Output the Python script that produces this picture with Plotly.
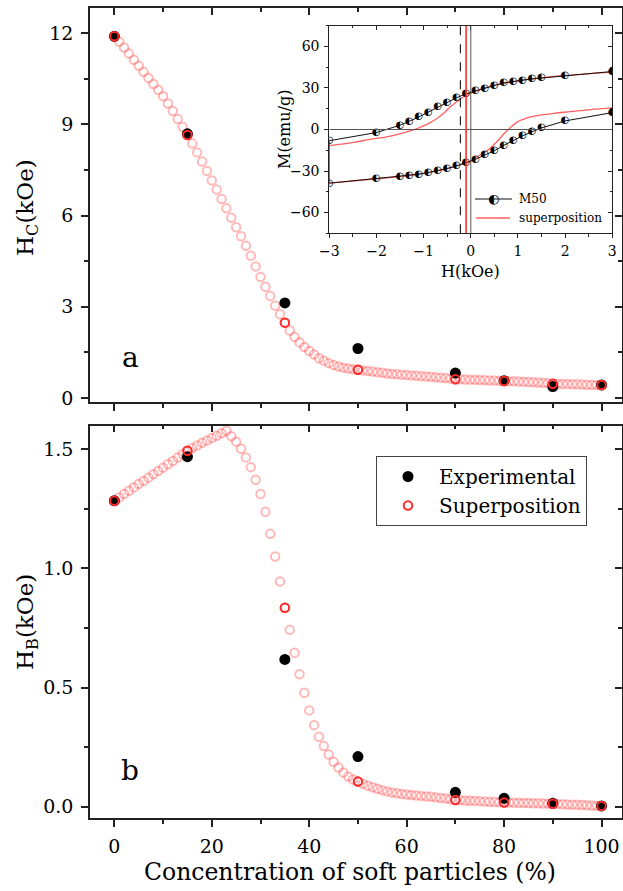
import plotly.graph_objects as go

# ---------------- data ----------------
conc_exp = [0, 15, 35, 50, 70, 80, 90, 100]
hc_exp = [11.90, 8.69, 3.13, 1.63, 0.82, 0.57, 0.38, 0.43]
hb_exp = [1.284, 1.469, 0.618, 0.210, 0.060, 0.035, 0.014, 0.003]
hc_sup_at_exp = [11.90, 8.65, 2.48, 0.93, 0.62, 0.56, 0.47, 0.43]
hb_sup_at_exp = [1.284, 1.494, 0.835, 0.105, 0.028, 0.017, 0.012, 0.003]

conc_sup = list(range(0, 101))
hc_sup = [
    11.90, 11.72, 11.53, 11.33, 11.13, 10.93, 10.73, 10.53, 10.33, 10.13,
    9.93, 9.69, 9.44, 9.18, 8.92, 8.65, 8.37, 8.08, 7.78, 7.47,
    7.16, 6.86, 6.55, 6.24, 5.93, 5.62, 5.32, 5.01, 4.68, 4.33,
    3.98, 3.66, 3.36, 3.04, 2.76, 2.48, 2.22, 2.01, 1.83, 1.68,
    1.55, 1.43, 1.31, 1.23, 1.15, 1.09, 1.04, 1.00, 0.97, 0.95,
    0.93, 0.91, 0.89, 0.87, 0.85, 0.83, 0.81, 0.79, 0.78, 0.77,
    0.755, 0.745, 0.73, 0.72, 0.71, 0.70, 0.685, 0.67, 0.66, 0.64,
    0.62, 0.615, 0.61, 0.605, 0.60, 0.595, 0.59, 0.58, 0.575, 0.57,
    0.56, 0.555, 0.55, 0.545, 0.54, 0.53, 0.52, 0.51, 0.50, 0.49,
    0.47, 0.468, 0.465, 0.46, 0.455, 0.45, 0.445, 0.44, 0.435, 0.432,
    0.43,
]
hb_sup = [
    1.284, 1.298, 1.312, 1.326, 1.340, 1.354, 1.367, 1.381, 1.395, 1.409,
    1.423, 1.437, 1.451, 1.465, 1.479, 1.494, 1.505, 1.516, 1.527, 1.537,
    1.547, 1.557, 1.567, 1.578, 1.555, 1.532, 1.502, 1.466, 1.425, 1.372,
    1.312, 1.238, 1.145, 1.050, 0.945, 0.835, 0.742, 0.646, 0.556, 0.478,
    0.404, 0.342, 0.293, 0.254, 0.219, 0.188, 0.164, 0.143, 0.126, 0.114,
    0.105, 0.096, 0.088, 0.081, 0.075, 0.069, 0.064, 0.059, 0.056, 0.053,
    0.051, 0.049, 0.047, 0.045, 0.043, 0.041, 0.039, 0.036, 0.034, 0.031,
    0.028, 0.027, 0.026, 0.025, 0.024, 0.023, 0.021, 0.020, 0.019, 0.018,
    0.017, 0.017, 0.016, 0.016, 0.015, 0.015, 0.014, 0.014, 0.013, 0.013,
    0.012, 0.011, 0.010, 0.009, 0.008, 0.008, 0.007, 0.006, 0.005, 0.004,
    0.003,
]

# inset: M50 hysteresis loop
h_m50_up = [3, 2, 1.5, 1.3, 1.1, 0.9, 0.7, 0.5, 0.3, 0.1, -0.1, -0.3, -0.5,
            -0.7, -0.9, -1.1, -1.3, -1.5, -2, -3]
m_m50_up = [41.9, 39.0, 37.3, 36.6, 35.6, 34.7, 33.7, 31.8, 29.9, 28.2, 25.8,
            23.0, 19.4, 16.3, 12.4, 9.1, 6.0, 3.1, -2.2, -8.1]
h_m50_dn = [-3, -2, -1.5, -1.3, -1.1, -0.9, -0.7, -0.5, -0.3, -0.1, 0.1, 0.3,
            0.5, 0.7, 0.9, 1.1, 1.3, 1.5, 2, 3]
m_m50_dn = [-38.8, -35.6, -34.0, -33.3, -32.3, -31.1, -29.9, -28.2, -26.3,
            -23.9, -21.5, -18.4, -15.3, -11.5, -7.7, -4.5, -1.7, 1.2, 6.2, 12.2]
# inset: superposition loop
h_sup_up = [3, 2, 1.5, 1, 0.5, 0.2, 0, -0.1, -0.2, -0.3, -0.44, -0.58, -0.72,
            -0.86, -1.0, -1.14, -1.43, -1.78, -2.14, -2.49, -3]
m_sup_up = [41.5, 39.0, 37.3, 35.2, 31.8, 29.0, 26.5, 24.8, 22.5, 20.0, 16.3,
            11.5, 7.9, 5.0, 2.6, 0.7, -2.4, -5.3, -7.2, -9.3, -11.7]
h_sup_dn = [-3, -2, -1.5, -1, -0.5, -0.2, 0, 0.13, 0.27, 0.41, 0.55, 0.7, 0.84,
            0.98, 1.19, 1.4, 1.76, 2.11, 2.54, 3]
m_sup_dn = [-38.8, -35.6, -34.0, -31.7, -28.2, -25.2, -22.8, -19.6, -17.2,
            -13.6, -8.9, -3.3, 1.4, 5.3, 8.4, 10.0, 11.7, 12.9, 14.4, 15.6]
hc_m50 = -0.22   # coercive field of M50 (dashed line)
hc_superpos = -0.10  # coercive field of superposition (red line)

# ---------------- style ----------------
W, H = 623, 891
FONT = "DejaVu Serif"
AX = "#222222"
LIGHT = "rgba(255,70,70,0.38)"
RED = "#ff2b2b"


def px(x):
    return x / W


def py(y):
    return 1 - y / H


fig = go.Figure()

# top panel (a)
fig.add_trace(go.Scatter(x=conc_sup, y=hc_sup, mode="markers", xaxis="x", yaxis="y",
                         marker=dict(symbol="circle-open", size=8.5, color=LIGHT, line=dict(width=2, color=LIGHT)),
                         showlegend=False, hoverinfo="skip"))
fig.add_trace(go.Scatter(x=conc_exp, y=hc_exp, mode="markers", xaxis="x", yaxis="y",
                         marker=dict(symbol="circle", size=11, color="black"),
                         showlegend=False))
fig.add_trace(go.Scatter(x=conc_exp, y=hc_sup_at_exp, mode="markers", xaxis="x", yaxis="y",
                         marker=dict(symbol="circle-open", size=8.5, color=RED, line=dict(width=2, color=RED)),
                         showlegend=False))

# bottom panel (b)
fig.add_trace(go.Scatter(x=conc_sup, y=hb_sup, mode="markers", xaxis="x2", yaxis="y2",
                         marker=dict(symbol="circle-open", size=8.5, color=LIGHT, line=dict(width=2, color=LIGHT)),
                         showlegend=False, hoverinfo="skip"))
fig.add_trace(go.Scatter(x=conc_exp, y=hb_exp, mode="markers", xaxis="x2", yaxis="y2",
                         name="Experimental",
                         marker=dict(symbol="circle", size=11, color="black")))
fig.add_trace(go.Scatter(x=conc_exp, y=hb_sup_at_exp, mode="markers", xaxis="x2", yaxis="y2",
                         name="Superposition",
                         marker=dict(symbol="circle-open", size=8.5, color=RED, line=dict(width=2, color=RED))))

# inset
fig.add_trace(go.Scatter(x=h_sup_up, y=m_sup_up, mode="lines", xaxis="x3", yaxis="y3",
                         line=dict(color="#ff6060", width=1.3, shape="spline"), showlegend=False))
fig.add_trace(go.Scatter(x=h_sup_dn, y=m_sup_dn, mode="lines", xaxis="x3", yaxis="y3",
                         line=dict(color="#ff6060", width=1.3, shape="spline"), showlegend=False))
fig.add_trace(go.Scatter(x=h_m50_up + h_m50_dn, y=m_m50_up + m_m50_dn, mode="lines", xaxis="x3", yaxis="y3",
                         line=dict(color="#111111", width=1), showlegend=False))
fig.add_trace(go.Scatter(x=h_m50_up + h_m50_dn, y=m_m50_up + m_m50_dn, mode="text", xaxis="x3", yaxis="y3",
                         text=["◐"] * (len(h_m50_up) + len(h_m50_dn)), textposition="middle center",
                         textfont=dict(family="DejaVu Sans", size=10, color="black"),
                         showlegend=False, hoverinfo="skip"))

# dummy traces for mirrored (inward-tick) axes
for xa, ya in [("x4", "y"), ("x", "y4"), ("x5", "y2"), ("x2", "y5"), ("x6", "y3"), ("x3", "y6")]:
    fig.add_trace(go.Scatter(x=[None], y=[None], xaxis=xa, yaxis=ya, showlegend=False, hoverinfo="skip"))

top_dom = [py(402), py(8)]
bot_dom = [py(818.3), py(425.7)]
x_dom = [px(90), px(622)]
ins_x = [px(329.3), px(612.3)]
ins_y = [py(233.3), py(25.7)]

xr = [-5, 104.2]
yr_top = [-0.13, 12.83]
yr_bot = [-0.049, 1.599]
xr_in = [-3, 3]
yr_in = [-75, 75]

tickfont = dict(family=FONT, size=19, color="black")


def axis(domain, anchor, rng, dtick, mdtick, ticks="outside", labels=True, side=None,
         overlaying=None, ticklen=7, mlen=4, lw=1.5, font=tickfont, fmt=None, standoff=3):
    d = dict(range=rng, anchor=anchor, showline=True, linecolor=AX, linewidth=lw,
             ticks=ticks, ticklen=ticklen, tickwidth=lw, tickcolor=AX,
             tick0=0, dtick=dtick, showgrid=False, zeroline=False,
             showticklabels=labels, tickfont=font, ticklabelstandoff=standoff,
             automargin=False,
             minor=dict(ticks=ticks, ticklen=mlen, tickwidth=lw, tickcolor=AX, dtick=mdtick, tick0=0,
                        showgrid=False),
             fixedrange=True)
    if domain is not None:
        d["domain"] = domain
    if side:
        d["side"] = side
    if overlaying:
        d["overlaying"] = overlaying
    if fmt:
        d["tickformat"] = fmt
    return d


inset_font = dict(family=FONT, size=14, color="black")

fig.update_layout(
    width=W, height=H, margin=dict(l=0, r=0, t=0, b=0, autoexpand=False),
    paper_bgcolor="white", plot_bgcolor="white",
    font=dict(family=FONT, color="black"),
    xaxis=axis(x_dom, "y", xr, 20, 10, labels=False),
    yaxis=axis(top_dom, "x", yr_top, 3, 1.5, standoff=4),
    xaxis2=axis(x_dom, "y2", xr, 20, 10, standoff=3),
    yaxis2=axis(bot_dom, "x2", yr_bot, 0.5, 0.25, fmt=".1f", standoff=4),
    xaxis3=axis(ins_x, "y3", xr_in, 1, 0.5, ticklen=4, mlen=2.5, lw=1, font=inset_font, standoff=1),
    yaxis3=axis(ins_y, "x3", yr_in, 30, 15, ticklen=4, mlen=2.5, lw=1, font=inset_font, standoff=2),
    xaxis4=axis(None, "y", xr, 20, 10, ticks="inside", labels=False, side="top", overlaying="x"),
    yaxis4=axis(None, "x", yr_top, 3, 1.5, ticks="inside", labels=False, side="right", overlaying="y"),
    xaxis5=axis(None, "y2", xr, 20, 10, ticks="inside", labels=False, side="top", overlaying="x2"),
    yaxis5=axis(None, "x2", yr_bot, 0.5, 0.25, ticks="inside", labels=False, side="right", overlaying="y2"),
    xaxis6=axis(None, "y3", xr_in, 1, 0.5, ticks="inside", labels=False, side="top", overlaying="x3",
                ticklen=4, mlen=2.5, lw=1),
    yaxis6=axis(None, "x3", yr_in, 30, 15, ticks="inside", labels=False, side="right", overlaying="y3",
                ticklen=4, mlen=2.5, lw=1),
    legend=dict(x=px(376), y=py(456), xanchor="left", yanchor="top",
                bgcolor="rgba(255,255,255,0)", bordercolor="#444", borderwidth=1,
                font=dict(family=FONT, size=20, color="black"), itemwidth=52,
                tracegroupgap=0),
    showlegend=True,
)

# inset reference lines
fig.add_shape(type="line", xref="x3", yref="y3", x0=xr_in[0], x1=xr_in[1], y0=0, y1=0,
              line=dict(color="#555555", width=1))
fig.add_shape(type="line", xref="x3", yref="y3", x0=0, x1=0, y0=yr_in[0], y1=yr_in[1],
              line=dict(color="#555555", width=1))
fig.add_shape(type="line", xref="x3", yref="y3", x0=hc_m50, x1=hc_m50, y0=yr_in[0], y1=yr_in[1],
              line=dict(color="#222222", width=1.2, dash="dash"))
fig.add_shape(type="line", xref="x3", yref="y3", x0=hc_superpos, x1=hc_superpos, y0=yr_in[0], y1=yr_in[1],
              line=dict(color="#ff3030", width=1.6))

# inset legend (manual)
fig.add_shape(type="line", xref="paper", yref="paper", x0=px(475), x1=px(512), y0=py(199), y1=py(199),
              line=dict(color="#111111", width=1))
fig.add_shape(type="line", xref="paper", yref="paper", x0=px(476), x1=px(510), y0=py(218), y1=py(218),
              line=dict(color="#ff6060", width=1.3))

ann = [
    dict(x=px(493.5), y=py(199), text="◐", font=dict(family="DejaVu Sans", size=13, color="black")),
    dict(x=px(517), y=py(199), text="M50", xanchor="left", font=dict(family=FONT, size=12)),
    dict(x=px(517), y=py(218), text="superposition", xanchor="left", font=dict(family=FONT, size=12)),
    dict(x=px(284), y=py(130), text="M(emu/g)", textangle=-90, font=dict(family=FONT, size=16)),
    dict(x=px(470), y=py(271), text="H(kOe)", font=dict(family=FONT, size=16)),
    dict(x=px(27), y=py(207), text="H<sub>C</sub>(kOe)", textangle=-90, font=dict(family=FONT, size=23)),
    dict(x=px(27), y=py(622), text="H<sub>B</sub>(kOe)", textangle=-90, font=dict(family=FONT, size=23)),
    dict(x=px(350), y=py(872), text="Concentration of soft particles (%)", font=dict(family=FONT, size=23.5)),
    dict(x=px(130), y=py(357), text="a", font=dict(family=FONT, size=28)),
    dict(x=px(130), y=py(770), text="b", font=dict(family=FONT, size=28)),
]
for a in ann:
    a.setdefault("xanchor", "center")
    a.update(xref="paper", yref="paper", yanchor="middle", showarrow=False)
    fig.add_annotation(**a)

fig.write_html("out.html")
